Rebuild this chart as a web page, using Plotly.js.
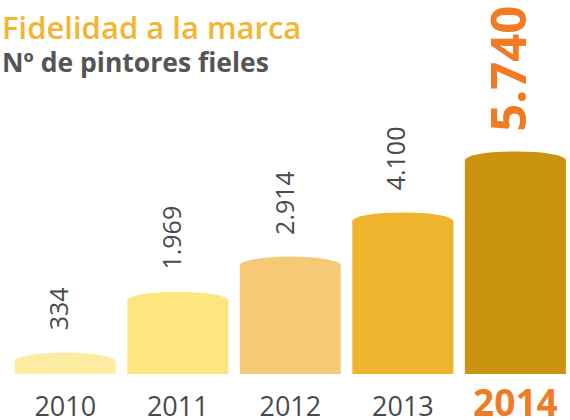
<!DOCTYPE html>
<html>
<head>
<meta charset="utf-8">
<script src="https://cdn.plot.ly/plotly-3.0.1.min.js"></script>
<style>html,body{margin:0;padding:0;background:#fff;}#chart{width:570px;height:420px;}</style>
</head>
<body>
<div id="chart"></div>
<script>
// ---- data ----
const years = ['2010', '2011', '2012', '2013', '2014'];
const values = [334, 1969, 2914, 4100, 5740];
const valueLabels = ['334', '1.969', '2.914', '4.100', '5.740'];
const titleText = 'Fidelidad a la marca';
const subtitleText = 'Nº de pintores fieles';

// ---- style ----
const barColors = ['#FDEBA2', '#FEE67E', '#F6C977', '#EFB42D', '#CB940F'];
const gray = '#4A4A4A';
const orange = '#F07B24';
const FONT = '"Open Sans", "Noto Sans", sans-serif';
const highlight = years.length - 1;
const halfBar = 0.449;

const trace = {
  type: 'bar',
  x: years,
  y: values,
  marker: { color: barColors, line: { width: 0 } },
  hoverinfo: 'skip'
};

const shapes = values.map((v, i) => ({
  type: 'circle',
  xref: 'x', yref: 'y',
  x0: i - halfBar, x1: i + halfBar,
  ysizemode: 'pixel', yanchor: v,
  y0: -9, y1: 9,
  fillcolor: barColors[i],
  line: { width: 0 },
  layer: 'above'
}));

const annotations = values.map((v, i) => ({
  x: i, y: v, xref: 'x', yref: 'y',
  text: valueLabels[i],
  textangle: -90,
  showarrow: false,
  xanchor: 'center', yanchor: 'bottom',
  yshift: i === highlight ? 27 : 29, xshift: i === highlight ? -8 : -7,
  font: i === highlight
    ? { family: FONT, size: 49, color: orange, weight: 700 }
    : { family: FONT, size: 25, color: gray, weight: 500 }
}));

annotations.push({
  xref: 'paper', yref: 'paper', x: -9 / 561, y: 1,
  xanchor: 'left', yanchor: 'top', yshift: -4,
  text: titleText, showarrow: false,
  font: { family: FONT, size: 31, color: '#F2B632', weight: 600 }
});
annotations.push({
  xref: 'paper', yref: 'paper', x: -9 / 561, y: 1,
  xanchor: 'left', yanchor: 'top', yshift: -42,
  text: subtitleText, showarrow: false,
  font: { family: FONT, size: 26.5, color: '#555555', weight: 700 }
});

const tickText = years.map((y, i) => i === highlight
  ? '<span style="color:' + orange + ';font-size:37px;font-weight:700">' + y + '</span>'
  : y);

const layout = {
  width: 570, height: 420,
  margin: { l: 9, r: 0, t: 0, b: 46, pad: 0 },
  paper_bgcolor: '#ffffff', plot_bgcolor: '#ffffff',
  showlegend: false,
  bargap: 0.102,
  xaxis: {
    type: 'category',
    range: [-0.5, 4.485],
    tickvals: years, ticktext: tickText,
    showgrid: false, zeroline: false, showline: false,
    ticks: '', ticklabelstandoff: 14,
    tickfont: { family: FONT, size: 27, color: gray, weight: 500 },
    fixedrange: true
  },
  yaxis: {
    range: [0, 10050],
    visible: false, showgrid: false, zeroline: false,
    fixedrange: true
  },
  shapes: shapes,
  annotations: annotations,
  font: { family: FONT }
};

Plotly.newPlot('chart', [trace], layout, { staticPlot: true, displayModeBar: false });
</script>
</body>
</html>
